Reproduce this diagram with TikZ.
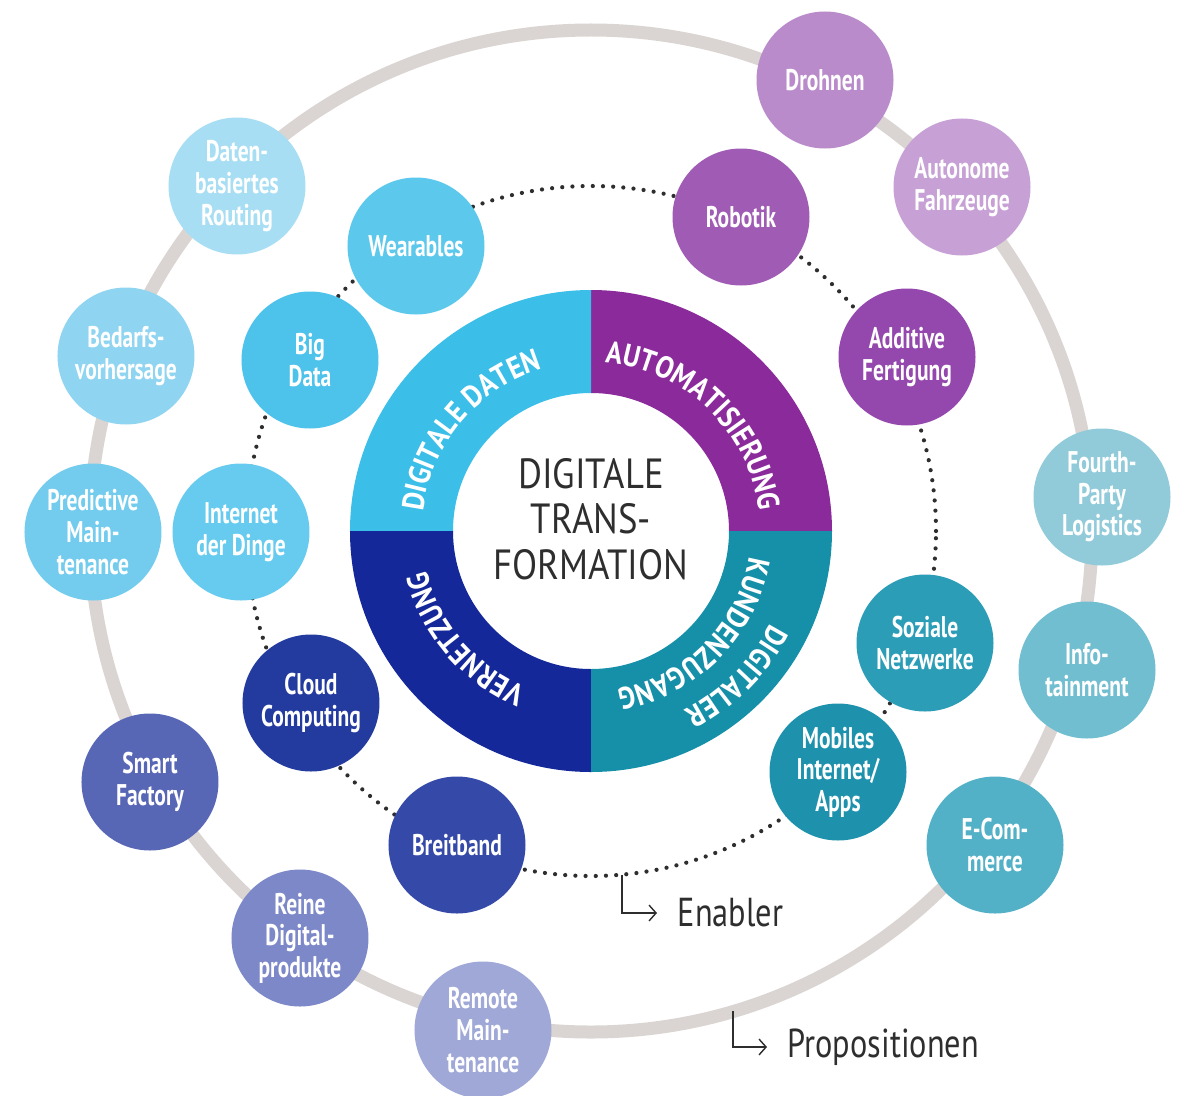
\documentclass[tikz,border=0pt]{standalone}
\usepackage{fontspec}
\setmainfont{PT Sans}
\newfontfamily\condfont[FakeStretch=0.8]{PT Sans}
\newfontfamily\boldcond[FakeStretch=0.72]{PT Sans Bold}
\newfontfamily\ringfont[FakeStretch=0.88]{PT Sans Bold}
\newfontfamily\titlefont[FakeStretch=0.87]{PT Sans}
\usetikzlibrary{decorations.text,arrows.meta}

\begin{document}
\begin{tikzpicture}[thick,
    prop/.style={circle,minimum size=2.74cm,inner sep=0pt,align=center,text=white,
      font=\boldcond\fontsize{17}{18}\selectfont},
    ringtext/.style={decorate,decoration={text along path,text align=center,
      text color=white,text={|\ringfont\fontsize{17.5}{17.5}\selectfont|#1}}},
    hint/.style={anchor=west,inner sep=0.4cm,text=greyb,font=\condfont\fontsize{23}{23}\selectfont}]
    \definecolor{cyana}{HTML}{3BBEE8}\definecolor{purpa}{HTML}{8B2A9B}
    \definecolor{teala}{HTML}{1690A8}\definecolor{navya}{HTML}{14289A}
    \definecolor{cyanb}{HTML}{5BC8EC}\definecolor{cyanc}{HTML}{4DC2EA}\definecolor{cyand}{HTML}{66CBEE}
    \definecolor{cyane}{HTML}{A8DEF3}\definecolor{cyanf}{HTML}{8FD4F0}\definecolor{cyang}{HTML}{73CCEE}
    \definecolor{purpb}{HTML}{A05BB5}\definecolor{purpc}{HTML}{9447AD}
    \definecolor{purpd}{HTML}{B98BCB}\definecolor{purpe}{HTML}{C7A1D5}
    \definecolor{tealb}{HTML}{2C9DB7}\definecolor{tealc}{HTML}{1E92AD}
    \definecolor{teald}{HTML}{91CBDA}\definecolor{teale}{HTML}{72BED1}\definecolor{tealf}{HTML}{52B0C7}
    \definecolor{navyb}{HTML}{233A9F}\definecolor{navyc}{HTML}{3549A8}
    \definecolor{navyd}{HTML}{5866B6}\definecolor{navye}{HTML}{7C88C8}\definecolor{navyf}{HTML}{A0A8D7}
    \definecolor{greya}{HTML}{DAD5D3}\definecolor{greyb}{HTML}{2E2E2E}
    \def\ro{4.82}\def\ri{2.76}
    \useasboundingbox (-11.82,-11.28) rectangle (11.74,10.62);
    \draw[greya,line width=0.26cm] (0,0) circle (10.02cm);
    \draw[greyb,line width=2.4pt,line cap=round,dash pattern=on 0pt off 5.8pt] (0,0) circle (6.9cm);
    % Enabler
    \node[prop,fill=cyanb] (wear) at (-3.50,5.70) {Wearables};
    \node[prop,fill=cyanc] (bigdata) at (-5.62,3.42) {Big\\Data};
    \node[prop,fill=cyand] (iot) at (-7.00,-0.02) {Internet\\der Dinge};
    \node[prop,fill=purpb] (robotik) at (3.00,6.28) {Robotik};
    \node[prop,fill=purpc] (additive) at (6.32,3.48) {Additive\\Fertigung};
    \node[prop,fill=tealb] (sozial) at (6.68,-2.24) {Soziale\\Netzwerke};
    \node[prop,fill=tealc] (mobil) at (4.94,-4.82) {Mobiles\\Internet/\\Apps};
    \node[prop,fill=navyb] (cloud) at (-5.60,-3.44) {Cloud\\Computing};
    \node[prop,fill=navyc] (breit) at (-2.68,-6.28) {Breitband};
    % Propositionen
    \node[prop,fill=cyane] (routing) at (-7.08,6.90) {Daten-\\basiertes\\Routing};
    \node[prop,fill=cyanf] (bedarf) at (-9.30,3.50) {Bedarfs-\\vorhersage};
    \node[prop,fill=cyang] (predict) at (-9.96,-0.02) {Predictive\\Main-\\tenance};
    \node[prop,fill=purpd] (drohnen) at (4.68,9.02) {Drohnen};
    \node[prop,fill=purpe] (auto) at (7.42,6.88) {Autonome\\Fahrzeuge};
    \node[prop,fill=teald] (fourth) at (10.22,0.68) {Fourth-\\Party\\Logistics};
    \node[prop,fill=teale] (info) at (9.92,-2.78) {Info-\\tainment};
    \node[prop,fill=tealf] (ecom) at (8.08,-6.28) {E-Com-\\merce};
    \node[prop,fill=navyd] (smart) at (-8.82,-5.02) {Smart\\Factory};
    \node[prop,fill=navye] (reine) at (-5.82,-8.14) {Reine\\Digital-\\produkte};
    \node[prop,fill=navyf] (remote) at (-2.16,-9.98) {Remote\\Main-\\tenance};
    \foreach \a/\c in {0/purpa,90/cyana,180/navya,270/teala}
      \fill[\c] (\a:\ro) arc[start angle=\a,end angle=\a+90,radius=\ro]
        -- (\a+90:\ri) arc[start angle=\a+90,end angle=\a,radius=\ri] -- cycle;
    \path[ringtext=DIGITALE DATEN] (190:3.38) arc[start angle=190,end angle=90,radius=3.38];
    \path[ringtext=AUTOMATISIERUNG] (96:3.38) arc[start angle=96,end angle=-4,radius=3.38];
    \path[ringtext=VERNETZUNG] (270:3.38) arc[start angle=270,end angle=171,radius=3.38];
    \path[ringtext=DIGITALER] (5:4.04) arc[start angle=5,end angle=-95,radius=4.04];
    \path[ringtext=KUNDENZUGANG] (5:3.2) arc[start angle=5,end angle=-95,radius=3.2];
    \node[align=center,text=greyb,font=\titlefont\fontsize{24}{26}\selectfont] (dt) at (0,0.24) {DIGITALE\\TRANS-\\FORMATION};
    \coordinate (en) at (-84.85:6.9);
    \coordinate (pc) at (-73.54:10.02);
    \node[hint] (enabler) at (1.32,-7.64) {Enabler};
    \node[hint] (propos) at (3.52,-10.32) {Propositionen};
    \foreach \s/\t in {en/enabler,pc/propos}
      \draw[greyb,line width=0.8pt,-{Straight Barb[length=4pt,width=9pt]}] (\s) |- (\t.west);
\end{tikzpicture}
\end{document}
